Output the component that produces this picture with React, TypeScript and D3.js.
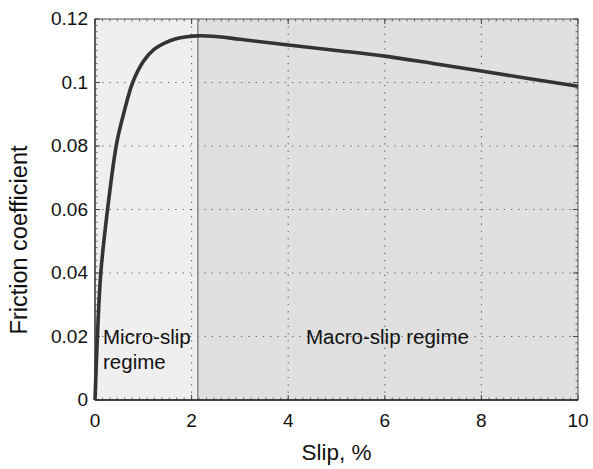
import { useEffect, useRef } from 'react';
import * as d3 from 'd3';

// Slip (%) vs friction coefficient
const slipValues = [0, 0.05, 0.12, 0.26, 0.45, 0.59, 0.78, 1.0, 1.21, 1.45, 1.66, 1.9, 2.13, 2.5, 3, 4, 5, 6, 7, 8, 9, 10];
const frictionValues = [0, 0.02, 0.04, 0.06, 0.081, 0.09, 0.1, 0.1066, 0.1103, 0.1125, 0.1137, 0.1144, 0.1147, 0.1145, 0.1136, 0.1118, 0.1101, 0.1083, 0.1060, 0.1036, 0.1012, 0.0988];

const xTicks = [0, 2, 4, 6, 8, 10];
const yTicks = [0, 0.02, 0.04, 0.06, 0.08, 0.1, 0.12];
const yTickLabels = ['0', '0.02', '0.04', '0.06', '0.08', '0.1', '0.12'];

const regimeBoundary = 2.13;
const regimeLabels = ['Micro-slip', 'regime', 'Macro-slip regime'];

const FONT = '"Liberation Sans", Arial, sans-serif';

const App: React.FC = () => {
  const svgRef = useRef(null);

  useEffect(() => {
    const width = 593;
    const height = 469;
    const margin = { top: 19, right: 15, bottom: 69, left: 95 };
    const plotW = width - margin.left - margin.right;
    const plotH = height - margin.top - margin.bottom;

    const svg = d3.select(svgRef.current);
    svg.selectAll('*').remove();

    const xScale = d3.scaleLinear().domain([0, 10]).range([0, plotW]);
    const yScale = d3.scaleLinear().domain([0, 0.12]).range([plotH, 0]);

    const g = svg.append('g').attr('transform', `translate(${margin.left},${margin.top})`);

    // regime backgrounds
    g.append('rect')
      .attr('x', 0)
      .attr('y', 0)
      .attr('width', xScale(regimeBoundary))
      .attr('height', plotH)
      .attr('fill', '#efefef');
    g.append('rect')
      .attr('x', xScale(regimeBoundary))
      .attr('y', 0)
      .attr('width', plotW - xScale(regimeBoundary))
      .attr('height', plotH)
      .attr('fill', '#e0e0e0');

    // dotted grid
    const gridStyle = (sel) =>
      sel
        .attr('stroke', '#5a5a5a')
        .attr('stroke-width', 1.1)
        .attr('stroke-dasharray', '1.2,6.1')
        .attr('fill', 'none');

    g.selectAll('.grid-x')
      .data(xTicks.slice(1, -1))
      .enter()
      .append('line')
      .attr('class', 'grid-x')
      .attr('x1', (d) => xScale(d))
      .attr('x2', (d) => xScale(d))
      .attr('y1', plotH)
      .attr('y2', 0)
      .call(gridStyle);

    g.selectAll('.grid-y')
      .data(yTicks.slice(1, -1))
      .enter()
      .append('line')
      .attr('class', 'grid-y')
      .attr('x1', 0)
      .attr('x2', plotW)
      .attr('y1', (d) => yScale(d))
      .attr('y2', (d) => yScale(d))
      .call(gridStyle);

    // boundary line
    g.append('line')
      .attr('x1', xScale(regimeBoundary))
      .attr('x2', xScale(regimeBoundary))
      .attr('y1', 0)
      .attr('y2', plotH)
      .attr('stroke', '#7a7a7a')
      .attr('stroke-width', 1.3);

    // minor ticks on all four sides
    const xMinor = d3.range(0, 10.001, 2 / 13);
    const yMinor = d3.range(0, 0.12001, 0.002);
    const tickColor = '#666';

    [plotH, 0].forEach((yy, k) => {
      g.selectAll(`.xminor-${k}`)
        .data(xMinor)
        .enter()
        .append('line')
        .attr('x1', (d) => xScale(d))
        .attr('x2', (d) => xScale(d))
        .attr('y1', yy)
        .attr('y2', k === 0 ? yy - 2.5 : yy + 2.5)
        .attr('stroke', tickColor)
        .attr('stroke-width', 1);
    });
    [0, plotW].forEach((xx, k) => {
      g.selectAll(`.yminor-${k}`)
        .data(yMinor)
        .enter()
        .append('line')
        .attr('x1', xx)
        .attr('x2', k === 0 ? xx + 2.5 : xx - 2.5)
        .attr('y1', (d) => yScale(d))
        .attr('y2', (d) => yScale(d))
        .attr('stroke', tickColor)
        .attr('stroke-width', 1);
    });

    // major ticks
    [plotH, 0].forEach((yy, k) => {
      g.selectAll(`.xmajor-${k}`)
        .data(xTicks)
        .enter()
        .append('line')
        .attr('x1', (d) => xScale(d))
        .attr('x2', (d) => xScale(d))
        .attr('y1', yy)
        .attr('y2', k === 0 ? yy - 5 : yy + 5)
        .attr('stroke', '#444')
        .attr('stroke-width', 1);
    });
    [0, plotW].forEach((xx, k) => {
      g.selectAll(`.ymajor-${k}`)
        .data(yTicks)
        .enter()
        .append('line')
        .attr('x1', xx)
        .attr('x2', k === 0 ? xx + 5 : xx - 5)
        .attr('y1', (d) => yScale(d))
        .attr('y2', (d) => yScale(d))
        .attr('stroke', '#444')
        .attr('stroke-width', 1);
    });

    // frame
    g.append('rect')
      .attr('x', 0)
      .attr('y', 0)
      .attr('width', plotW)
      .attr('height', plotH)
      .attr('fill', 'none')
      .attr('stroke', '#555')
      .attr('stroke-width', 1);
    g.append('line')
      .attr('x1', 0)
      .attr('x2', plotW)
      .attr('y1', plotH)
      .attr('y2', plotH)
      .attr('stroke', '#222')
      .attr('stroke-width', 1.5);
    g.append('line')
      .attr('x1', 0)
      .attr('x2', 0)
      .attr('y1', 0)
      .attr('y2', plotH)
      .attr('stroke', '#333')
      .attr('stroke-width', 1.2);

    // friction curve
    const I = d3.range(slipValues.length);
    const lineGenerator = d3
      .line()
      .curve(d3.curveCatmullRom.alpha(0.5))
      .x((i) => xScale(slipValues[i]))
      .y((i) => yScale(frictionValues[i]));

    g.append('path')
      .attr('fill', 'none')
      .attr('stroke', '#333')
      .attr('stroke-width', 3.6)
      .attr('stroke-linejoin', 'round')
      .attr('d', lineGenerator(I));

    // regime labels
    const labelStyle = (sel) =>
      sel.style('font-family', FONT).style('font-size', '20.5px').attr('fill', '#111');

    g.append('text')
      .attr('x', 8)
      .attr('y', 325)
      .text(regimeLabels[0])
      .call(labelStyle);
    g.append('text')
      .attr('x', 8)
      .attr('y', 350)
      .text(regimeLabels[1])
      .call(labelStyle);
    g.append('text')
      .attr('x', 211)
      .attr('y', 325)
      .text(regimeLabels[2])
      .call(labelStyle);

    // tick labels
    g.selectAll('.xlabel')
      .data(xTicks)
      .enter()
      .append('text')
      .attr('x', (d) => xScale(d))
      .attr('y', plotH + 27)
      .attr('text-anchor', 'middle')
      .style('font-family', FONT)
      .style('font-size', '19px')
      .attr('fill', '#111')
      .text((d) => `${d}`);

    g.selectAll('.ylabel')
      .data(yTicks)
      .enter()
      .append('text')
      .attr('x', -7)
      .attr('y', (d) => yScale(d) + 6)
      .attr('text-anchor', 'end')
      .style('font-family', FONT)
      .style('font-size', '19px')
      .attr('fill', '#111')
      .text((d, i) => yTickLabels[i]);

    // axis titles
    svg.append('text')
      .attr('x', margin.left + plotW / 2)
      .attr('y', 460)
      .attr('text-anchor', 'middle')
      .style('font-family', FONT)
      .style('font-size', '22.5px')
      .attr('fill', '#111')
      .text('Slip, %');

    svg.append('text')
      .attr('transform', `translate(27,240) rotate(-90)`)
      .attr('text-anchor', 'middle')
      .style('font-family', FONT)
      .style('font-size', '23.5px')
      .attr('fill', '#111')
      .text('Friction coefficient');
  }, []);

  return (
    <svg
      ref={svgRef}
      width={593}
      height={469}
      style={{ position: 'absolute', left: 0, top: 0, background: '#fff', display: 'block' }}
    />
  );
};

export default App;
